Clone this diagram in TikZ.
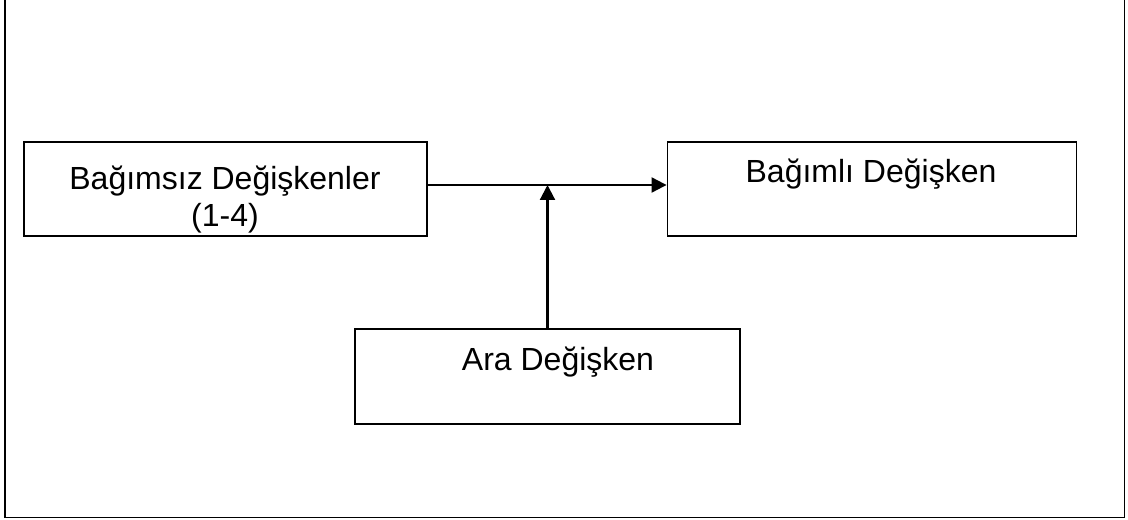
\documentclass[tikz,border=0pt]{standalone}
\usepackage{fontspec}
\setmainfont{Liberation Sans}
\usetikzlibrary{arrows.meta,positioning}

\begin{document}
\begin{tikzpicture}[x=0.75pt, y=-0.75pt,
    box/.style={draw, line width=1.4pt, inner sep=0pt},
    lbl/.style={inner sep=0pt, font=\fontsize{24}{27.75}\selectfont},
    link/.style={line width=1.6pt, -{Triangle[length=11.25pt, width=11.25pt]}}]
  \useasboundingbox (0,0) rectangle (1128,520);

  % Frame (top edge lies outside the page)
  \draw[line width=1.4pt] (5,0) -- (5,517.5) -- (1124.5,517.5) -- (1124.5,0);

  % Boxes
  \node[box, minimum width=302.25pt, minimum height=70.5pt] (lhs) at (225.5,189) {};
  \node[box, minimum width=306.75pt, minimum height=70.5pt] (rhs) at (872,189) {};
  \node[box, minimum width=288.75pt, minimum height=71.25pt] (ara) at (547.5,376.5) {};

  % Texts
  \node[lbl, align=center, anchor=base] (lhstext) at (225,227) {Bağımsız Değişkenler\\(1-4)};
  \node[lbl, anchor=base] (rhstext) at (871,183) {Bağımlı Değişken};
  \node[lbl, anchor=base] (aratext) at (558,370) {Ara Değişken};

  % Arrows
  \coordinate (jn) at (547.5,185);
  \draw[link] (lhs.east |- jn) -- (rhs.west |- jn);
  \draw[link] (ara.north) -- (jn);
\end{tikzpicture}
\end{document}
